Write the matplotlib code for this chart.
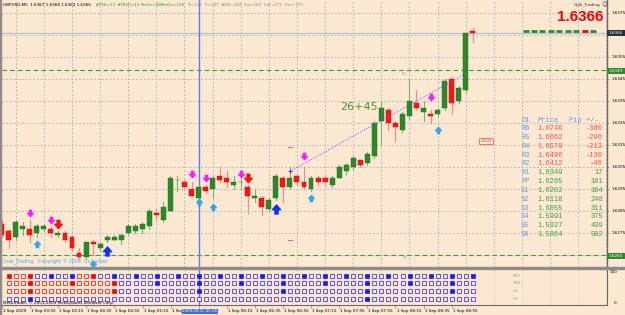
import matplotlib
matplotlib.use("Agg")
import matplotlib.pyplot as plt
import matplotlib.transforms as mtransforms
from matplotlib.path import Path

BG = '#fde8d2'
W, H = 625, 315

# ---- GBPUSD M5 bars, 1 Sep 2009 from 03:35 ----
opens  = [1.6279, 1.6276, 1.6273, 1.6277, 1.6277, 1.6275, 1.6277, 1.6277, 1.6274, 1.6275,
          1.6273, 1.6266, 1.6264, 1.6271, 1.6268, 1.6272, 1.6272, 1.6272, 1.6275, 1.6276,
          1.6277, 1.6278, 1.6284, 1.6281, 1.6285, 1.6299, 1.6298, 1.6295, 1.6291, 1.6296,
          1.6295, 1.6301, 1.6300, 1.6297, 1.6298, 1.6296, 1.6291, 1.6291, 1.6286, 1.6291,
          1.6300, 1.6296, 1.6301, 1.6298, 1.6295, 1.6300, 1.6300, 1.6297, 1.6300, 1.6303,
          1.6305, 1.6308, 1.6307, 1.6310, 1.6326, 1.6331, 1.6325, 1.6322, 1.6328, 1.6334,
          1.6330, 1.6329, 1.6329, 1.6332, 1.6345, 1.6335, 1.6340, 1.6367]
highs  = [1.6281, 1.6277, 1.6281, 1.6280, 1.6281, 1.6279, 1.6279, 1.6278, 1.6276, 1.6276,
          1.6274, 1.6268, 1.6271, 1.6272, 1.6271, 1.6274, 1.6274, 1.6274, 1.6279, 1.6279,
          1.6280, 1.6286, 1.6286, 1.6289, 1.6301, 1.6301, 1.6299, 1.6298, 1.6297, 1.6297,
          1.6301, 1.6305, 1.6303, 1.6301, 1.6300, 1.6297, 1.6295, 1.6292, 1.6291, 1.6302,
          1.6301, 1.6305, 1.6302, 1.6305, 1.6301, 1.6301, 1.6301, 1.6301, 1.6306, 1.6307,
          1.6310, 1.6308, 1.6312, 1.6326, 1.6335, 1.6332, 1.6326, 1.6330, 1.6345, 1.6340,
          1.6335, 1.6331, 1.6332, 1.6345, 1.6346, 1.6342, 1.6366, 1.6368]
lows   = [1.6273, 1.6268, 1.6272, 1.6274, 1.6271, 1.6273, 1.6276, 1.6273, 1.6273, 1.6271,
          1.6267, 1.6263, 1.6263, 1.6265, 1.6267, 1.6271, 1.6272, 1.6270, 1.6274, 1.6275,
          1.6275, 1.6277, 1.6281, 1.6280, 1.6285, 1.6294, 1.6295, 1.6292, 1.6290, 1.6293,
          1.6291, 1.6298, 1.6296, 1.6295, 1.6295, 1.6284, 1.6289, 1.6283, 1.6285, 1.6290,
          1.6289, 1.6295, 1.6297, 1.6295, 1.6294, 1.6297, 1.6297, 1.6296, 1.6300, 1.6302,
          1.6304, 1.6305, 1.6306, 1.6309, 1.6315, 1.6322, 1.6317, 1.6321, 1.6327, 1.6331,
          1.6326, 1.6325, 1.6328, 1.6331, 1.6329, 1.6334, 1.6339, 1.6362]
closes = [1.6274, 1.6272, 1.6280, 1.6278, 1.6274, 1.6278, 1.6278, 1.6275, 1.6275, 1.6272,
          1.6268, 1.6264, 1.6271, 1.6270, 1.6270, 1.6273, 1.6273, 1.6274, 1.6278, 1.6278,
          1.6279, 1.6285, 1.6283, 1.6287, 1.6300, 1.6299, 1.6296, 1.6292, 1.6296, 1.6294,
          1.6300, 1.6299, 1.6298, 1.6298, 1.6298, 1.6292, 1.6292, 1.6287, 1.6290, 1.6301,
          1.6296, 1.6300, 1.6298, 1.6296, 1.6300, 1.6298, 1.6298, 1.6300, 1.6305, 1.6306,
          1.6309, 1.6306, 1.6311, 1.6325, 1.6332, 1.6325, 1.6323, 1.6329, 1.6335, 1.6332,
          1.6332, 1.6328, 1.6331, 1.6344, 1.6334, 1.6341, 1.6366, 1.6366]
bid = 1.6366

# signal arrows (bar index, price)
pink_x = [4, 7, 27, 29, 34, 43, 61]
pink_y = [1.6284, 1.6281, 1.6302, 1.6300, 1.6302, 1.6310, 1.6337]
red_x = [8, 35]
red_y = [1.6279, 1.6300]
cyan_x = [5, 13, 28, 30, 44, 62]
cyan_y = [1.6270, 1.6261, 1.6289, 1.6287, 1.6291, 1.6322]
blue_x = [15, 39]
blue_y = [1.6267, 1.6286]

# dotted trend line
trend_x = [41, 66.3]
trend_y = [1.6303, 1.6348]

# daily pivot table
piv_names = ['R6', 'R5', 'R4', 'R3', 'R2', 'R1', 'PP', 'S1', 'S2', 'S3', 'S4', 'S5', 'S6']
piv_price = ['1.6746', '1.6662', '1.6579', '1.6496', '1.6412', '1.6349', '1.6265',
             '1.6202', '1.6118', '1.6055', '1.5991', '1.5927', '1.5864']
piv_pips = ['-380', '-296', '-213', '-130', '-46', '17', '101', '164', '248', '311', '375', '439', '502']

grid_prices = [1.6375, 1.6365, 1.6355, 1.6345, 1.6335, 1.6325, 1.6315, 1.6305, 1.6295,
               1.6285, 1.6275, 1.6265]
label_prices = [1.6375, 1.6355, 1.6345, 1.6335, 1.6325, 1.6315, 1.6305, 1.6295, 1.6285, 1.6275]
time_ticks = [0, 4, 8, 12, 16, 20, 24, 32, 36, 40, 44, 48, 52, 56, 60, 64]
time_labels = ['1 Sep 2009', '1 Sep 03:55', '1 Sep 04:15', '1 Sep 04:35', '1 Sep 04:55',
               '1 Sep 05:15', '1 Sep', '1 Sep 06:15', '1 Sep 06:35',
               '1 Sep 06:55', '1 Sep 07:15', '1 Sep 07:35', '1 Sep 07:55', '1 Sep 08:15',
               '1 Sep 08:35', '1 Sep 08:55']
cursor_bar = 28
cursor_label = '2009.09.01 05:55'

# trend squares, bars 1..67 (R/B filled, r/b hollow)
tf_names = ['M15', 'M30', 'H1', 'H4']
tf_rows = [
    'RrrR' + 'bbBbbB' + 'rrR' + 'bbB' * 18,
    'rrrRrrrrrRrrrrrR' + 'bbbbbB' * 8 + 'bbb',
    'rrrRrrrrrrrrrrrR' + 'bbbbbbbbbbbB' * 4 + 'bbb',
    'bbbB' + 'b' * 47 + 'B' + 'b' * 15,
]
dash_colors = ['g', 'g', 'g', 'g', 'g', 'g', 'g', 'r', 'g']


def fx(px):
    return px / W


def fy(py):
    return 1 - py / H


def arrow(up):
    v = [(-0.35, 1), (0.35, 1), (0.35, 0.05), (0.9, 0.05), (0, -1), (-0.9, 0.05), (-0.35, 0.05), (-0.35, 1)]
    if up:
        v = [(a, -b) for a, b in v]
    return Path(v, [Path.MOVETO] + [Path.LINETO] * 6 + [Path.CLOSEPOLY])


fig = plt.figure(figsize=(6.25, 3.15), dpi=100, facecolor=BG)

ax = fig.add_axes([fx(2), fy(267), 605 / W, 267 / H], facecolor=BG)
ax.set_xlim((2 - 1.7) / 7.03, (607 - 1.7) / 7.03)
ax.set_ylim(1.6355 - 210 / 22000, 1.6355 + 57 / 22000)

# grid
for p in grid_prices:
    ax.axhline(p, color='#9fb0c2', lw=0.55, ls=(0, (2.5, 2.5)), zorder=0)
for g in range(2, 87, 4):
    ax.axvline(g, color='#9fb0c2', lw=0.55, ls=(0, (2.5, 2.5)), zorder=0)

# candles
for i in range(len(opens)):
    o, h, l, c = opens[i], highs[i], lows[i], closes[i]
    up = c >= o
    wick = '#6fb86f' if up else '#f28a8a'
    body = '#2a8a2a' if up else '#ff1414'
    ax.plot([i, i], [l, h], color=wick, lw=0.8, zorder=2)
    hgt = max(abs(c - o), 0.00003)
    ax.bar(i, hgt, bottom=min(o, c), width=0.7, color=body,
           edgecolor='#1f6f1f' if up else '#e00000', lw=0.3, zorder=3)

# lines
ax.axhline(bid, color='#a9c0d0', lw=0.8, zorder=1)
ax.axhline(float(piv_price[5]), color='#3a9a3a', lw=0.8, ls=(0, (4, 3)), zorder=1)
ax.axhline(float(piv_price[6]), color='#3a9a3a', lw=0.8, ls=(0, (4, 3)), zorder=1)
ax.axvline(cursor_bar, color='#5a7cf0', lw=1, zorder=1)
ax.plot(trend_x, trend_y, color='#5555ff', lw=0.7, ls=(0, (1, 1.5)), zorder=4)
ax.plot(trend_x[0], trend_y[0], marker='+', color='#3333ff', ms=3, mew=0.7, zorder=5)
ax.plot([40.7, 41.3], [1.6314, 1.6314], color='#ff6060', lw=0.7)
ax.plot([40.7, 41.3], [1.6272, 1.6272], color='#ff6060', lw=0.7)

# arrows
ax.plot(pink_x, pink_y, ls='none', marker=arrow(False), ms=4.5, color='#ff1aff', zorder=5)
ax.plot(red_x, red_y, ls='none', marker=arrow(False), ms=6, color='#ff1010', zorder=5)
ax.plot(cyan_x, cyan_y, ls='none', marker=arrow(True), ms=4.5, color='#2aa8f0', zorder=5)
ax.plot(blue_x, blue_y, ls='none', marker=arrow(True), ms=6.5, color='#1030ff', zorder=5)

# current-bar dashes at top right
for k, dc in enumerate(dash_colors):
    col = '#ff0000' if dc == 'r' else '#2e8b2e'
    ax.plot([74.1 + k * 1.2, 74.95 + k * 1.2], [1.6367, 1.6367], color=col, lw=2,
            solid_capstyle='butt', zorder=5)

# right price axis
ax.yaxis.tick_right()
ax.set_yticks(label_prices)
ax.set_yticklabels(['%.4f' % p for p in label_prices])
ax.tick_params(axis='y', labelsize=3, pad=1.5, length=1.5, width=0.4, color='#606060')
ax.set_xticks([])
for s in ['top', 'left', 'bottom']:
    ax.spines[s].set_visible(False)
ax.spines['right'].set_color('#6a6a6a')
ax.spines['right'].set_linewidth(1)

# indicator panel
ax2 = fig.add_axes([fx(2), fy(305), 605 / W, 36 / H], facecolor=BG)
ax2.set_xlim(ax.get_xlim())
ax2.set_ylim(36, 0)
for g in range(2, 87, 4):
    ax2.axvline(g, color='#b5c0cb', lw=0.4, ls=(0, (2.5, 2.5)), zorder=0)
ax2.axvline(cursor_bar, color='#5a7cf0', lw=1, zorder=1)
row_y = [7, 14, 22, 30]
for r, row in enumerate(tf_rows):
    for j, ch in enumerate(row):
        col = '#ff0000' if ch in 'Rr' else '#1a1aff'
        face = col if ch.isupper() else BG
        ax2.plot(j + 1, row_y[r], marker='s', ms=3.1, mfc=face, mec=col, mew=0.5, zorder=3)
    ax2.text(72.6, row_y[r], tf_names[r], fontsize=2.8, color='#a0a0a0', va='center')
ax2.set_yticks([])
ax2.set_xticks(time_ticks + [cursor_bar])
ax2.set_xticklabels([])
ax2.tick_params(axis='x', length=2, width=0.4, color='#606060')
for s in ['top', 'left']:
    ax2.spines[s].set_visible(False)
ax2.spines['right'].set_color('#6a6a6a')
ax2.spines['bottom'].set_color('#6a6a6a')
ax2.spines['bottom'].set_linewidth(0.8)
bt = mtransforms.blended_transform_factory(ax2.transData, ax2.transAxes)
for t, lab in zip(time_ticks, time_labels):
    ax2.text(t + 0.15, -0.17, lab, transform=bt, fontsize=3, va='center', ha='left', clip_on=False)
ax2.text(cursor_bar + 0.15, -0.17, cursor_label, transform=bt, fontsize=2.9, va='center', ha='center',
         color='white', clip_on=False, zorder=10,
         bbox=dict(boxstyle='square,pad=0.15', fc='#3b6fd6', ec='none'))

# separator between panels and left frame
fig.patches.append(plt.Rectangle((0, fy(269)), 1, 2 / H, transform=fig.transFigure,
                                 color='#8c8c8c', zorder=5))
fig.patches.append(plt.Rectangle((0, 0), 1.5 / W, 1, transform=fig.transFigure,
                                 color='#8c8c8c', zorder=5))

# header texts
fig.text(fx(3), fy(5), 'GBPUSD,M5  1.6367 1.6368 1.6362 1.6366', fontsize=3, va='center')
fig.text(fx(96), fy(5), 'ATR6=13  ATR20=13', fontsize=3, va='center', color='#2e9e2e')
fig.text(fx(141), fy(5), 'RmGs=48', fontsize=3, va='center', color='#2e9e2e')
fig.text(fx(161), fy(5), 'RmOn=158', fontsize=3, va='center', color='#2e9e2e')
fig.text(fx(187), fy(5), 'Tr=113  Ti=147  ADR=182  Sw=160  Cdr=171  Zer=179', fontsize=3,
         va='center', color='#8a8a8a')
fig.text(fx(600), fy(5), 'Quik_Trading', fontsize=3, va='center', ha='right', color='#303030')
fig.text(fx(604), fy(5), '\u263a', fontsize=4, va='center', ha='center', color='#404040')
fig.text(fx(603), fy(17), '%.4f' % bid, fontsize=11, fontweight='bold', color='#ff0000',
         ha='right', va='center', family='Liberation Sans')
fig.text(fx(340), fy(107), '26+45', fontsize=8, color='#3a9a3a', va='center')
fig.text(fx(402), fy(74), 'R1', fontsize=2.8, color='#7aaee0', va='center')
fig.text(fx(403), fy(258), 'PP', fontsize=2.8, color='#7aaee0', va='center')
fig.text(fx(486), fy(141), '1.6322', fontsize=2.3, color='#c03030', va='center', ha='center',
         bbox=dict(boxstyle='square,pad=0.3', fc=BG, ec='#e05050', lw=0.5))

# price boxes on axis
fig.text(fx(616), fy(33), '%.4f' % bid, fontsize=3, color='white', va='center', ha='center', zorder=6,
         bbox=dict(boxstyle='square,pad=0.35', fc='#24323f', ec='none'))
fig.text(fx(616), fy(71), piv_price[5], fontsize=3, color='white', va='center', ha='center', zorder=6,
         bbox=dict(boxstyle='square,pad=0.35', fc='#2e8b2e', ec='none'))
fig.text(fx(616), fy(256), piv_price[6], fontsize=3, color='white', va='center', ha='center', zorder=6,
         bbox=dict(boxstyle='square,pad=0.35', fc='#2e8b2e', ec='none'))
fig.text(fx(610), fy(272), '100', fontsize=3, va='center')
fig.text(fx(614), fy(303), '0', fontsize=3, va='center')

# pivot table
mono = 'Liberation Mono'
fig.text(fx(521), fy(120), 'D1', fontsize=5, family=mono, color='#5c9fe0', va='center')
fig.text(fx(538), fy(120), 'Price', fontsize=5, family=mono, color='#5c9fe0', va='center')
fig.text(fx(569), fy(120), 'Pip +/-', fontsize=5, family=mono, color='#5c9fe0', va='center')
for k in range(len(piv_names)):
    yy = 128.5 + k * 8.85
    col = '#ff4a4a' if piv_pips[k].startswith('-') else '#3c9e3c'
    fig.text(fx(521), fy(yy), piv_names[k], fontsize=5, family=mono, color='#5c9fe0', va='center')
    fig.text(fx(538), fy(yy), piv_price[k], fontsize=5, family=mono, color=col, va='center')
    fig.text(fx(603), fy(yy), piv_pips[k], fontsize=5, family=mono, color=col, va='center', ha='right')

fig.text(fx(3), fy(262), 'Quik_Trading   Copyright \u00a9 2009  Quiksilver', fontsize=3.4,
         color='#45b2e2', va='center')
fig.text(fx(3), fy(303), 'MetaTrader, \u00a9 2001-2009 MetaQuotes Software Corp.', fontsize=3,
         va='center')

fig.savefig('out.png', dpi=100, facecolor=BG)
